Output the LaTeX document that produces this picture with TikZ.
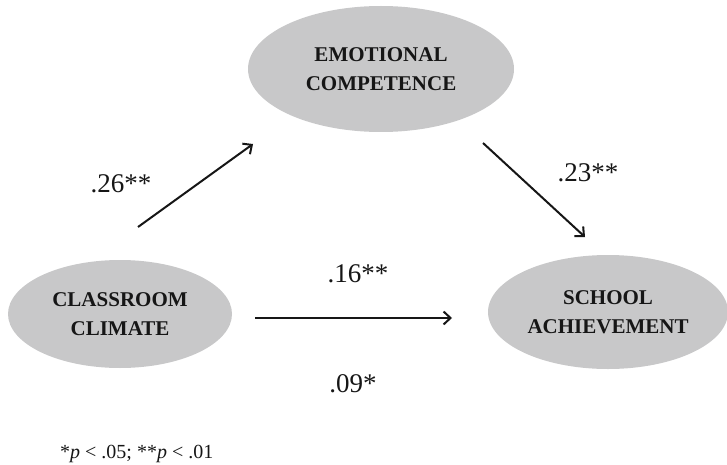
\documentclass[tikz,border=0pt]{standalone}
\usepackage{fontspec}
\setmainfont{Liberation Serif}
\usetikzlibrary{shapes.geometric,arrows.meta}
\definecolor{ellipseGray}{RGB}{200,200,201}
\definecolor{inkDark}{RGB}{22,22,22}

\begin{document}
\begin{tikzpicture}[x=1pt,y=-1pt,
        construct/.style={ellipse, fill=ellipseGray, inner sep=0pt, align=center, text=inkDark,
            font=\fontsize{21}{29}\selectfont\bfseries},
        coef/.style={anchor=base, text=inkDark, font=\fontsize{27}{30}\selectfont},
        effect/.style={-{Straight Barb[length=7pt,width=13pt]}, line width=2pt, draw=inkDark}]
    \useasboundingbox (0,0) rectangle (727,465);

    % Constructs
    \node[construct, minimum width=266pt, minimum height=126pt] (emo) at (381,69) {EMOTIONAL\\COMPETENCE};
    \node[construct, minimum width=224pt, minimum height=108pt] (climate) at (120,314) {CLASSROOM\\CLIMATE};
    \node[construct, minimum width=240pt, minimum height=114pt] (achieve) at (608,312) {SCHOOL\\ACHIEVEMENT};

    % Arrow ends
    \coordinate (a1) at (138,227);
    \coordinate (b1) at (253,144);
    \coordinate (a2) at (483,143);
    \coordinate (b2) at (585,237);
    \coordinate (a3) at (255,318);
    \coordinate (b3) at (452,318);

    % Paths
    \draw[effect] (a1) -- (b1);
    \draw[effect] (a2) -- (b2);
    \draw[effect] (a3) -- (b3);

    % Coefficients
    \node[coef] (c1) at (121,192) {.26**};
    \node[coef] (c2) at (588,182) {.23**};
    \node[coef] (c3) at (358,282) {.16**};
    \node[coef] (c4) at (353,392) {.09*};

    % Note
    \node[anchor=base west, inner sep=0pt, text=inkDark, font=\fontsize{20}{24}\selectfont] (note) at (60,458)
        {*\textit{p} < .05; **\textit{p} < .01};
\end{tikzpicture}
\end{document}
